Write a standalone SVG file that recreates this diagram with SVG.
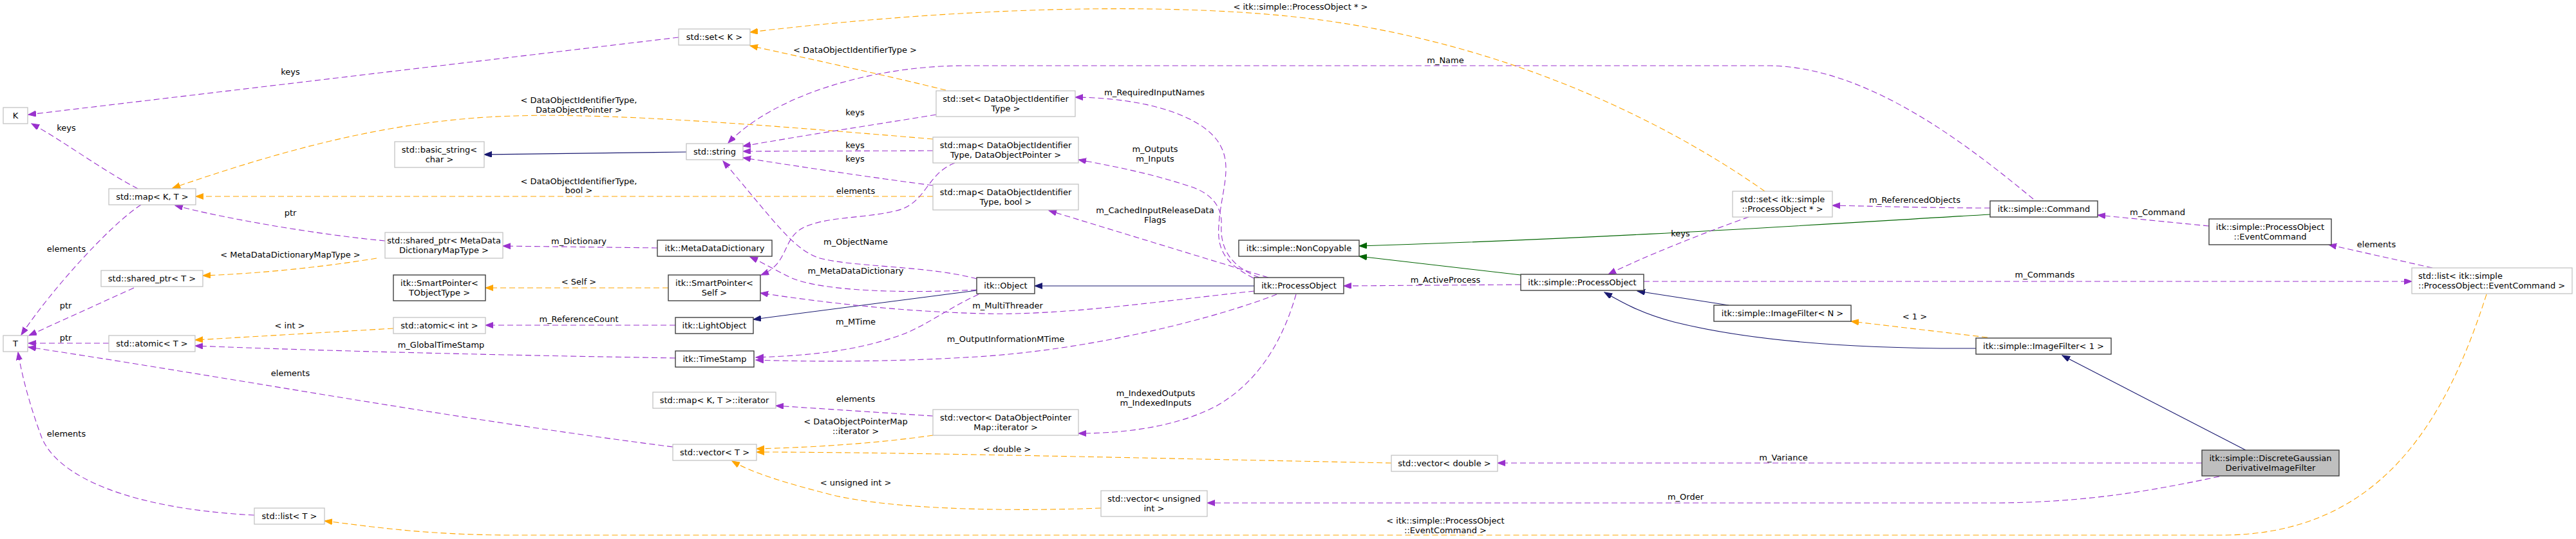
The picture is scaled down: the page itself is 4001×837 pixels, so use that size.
<svg xmlns="http://www.w3.org/2000/svg" width="4001" height="837" viewBox="0 0 4001 837">
<style>
text{font-family:"DejaVu Sans","Liberation Sans",sans-serif;font-size:13px;fill:#000;text-anchor:middle}
.node rect{fill:#fff;stroke:#bfbfbf;stroke-width:1.2}
.node.doc rect{stroke:#404040;stroke-width:1.4}
.node.main rect{fill:#bfbfbf;stroke:#404040;stroke-width:1.4}
.e{fill:none;stroke-width:1.1}
.p{stroke:#9a32cd;stroke-dasharray:9,5;marker-end:url(#ap)}
.o{stroke:#ffa500;stroke-dasharray:9,5;marker-end:url(#ao)}
.b{stroke:#191970;marker-end:url(#ab)}
.g{stroke:#006400;marker-end:url(#ag)}
</style>
<defs>
<marker id="ap" markerUnits="userSpaceOnUse" markerWidth="14" markerHeight="10" refX="12" refY="4.5" orient="auto"><path d="M0,0 L12,4.5 L0,9 z" fill="#9a32cd" stroke="#9a32cd"/></marker>
<marker id="ao" markerUnits="userSpaceOnUse" markerWidth="14" markerHeight="10" refX="12" refY="4.5" orient="auto"><path d="M0,0 L12,4.5 L0,9 z" fill="#ffa500" stroke="#ffa500"/></marker>
<marker id="ab" markerUnits="userSpaceOnUse" markerWidth="14" markerHeight="10" refX="12" refY="4.5" orient="auto"><path d="M0,0 L12,4.5 L0,9 z" fill="#191970" stroke="#191970"/></marker>
<marker id="ag" markerUnits="userSpaceOnUse" markerWidth="14" markerHeight="10" refX="12" refY="4.5" orient="auto"><path d="M0,0 L12,4.5 L0,9 z" fill="#006400" stroke="#006400"/></marker>
</defs>
<rect width="4001" height="837" fill="#fff"/>

<g id="connectors">
<path class="e p" d="M1054,58 L44,178"/><text x="451" y="116">keys</text>
<path class="e p" d="M214,293 C 160,265 100,220 49,192"/><text x="103" y="203">keys</text>
<path class="e p" d="M219,318 C 170,350 80,450 33,520"/><text x="103" y="391">elements</text>
<path class="e p" d="M208,447 L45,521"/><text x="102" y="479">ptr</text>
<path class="e p" d="M169,533 L44,533"/><text x="102" y="529">ptr</text>
<path class="e p" d="M1045,694 C 700,650 350,585 44,539"/><text x="451" y="584">elements</text>
<path class="e p" d="M395,800 C 200,790 90,740 65,680 C 50,640 35,590 28,547"/><text x="103" y="678">elements</text>
<path class="e o" d="M2741,297 C 2560,170 2300,55 2000,25 C 1800,5 1500,10 1165,50"/><text x="2020" y="15">&lt; itk::simple::ProcessObject * &gt;</text>
<path class="e o" d="M1469,140 C 1380,118 1260,92 1165,71"/><text x="1328" y="82">&lt; DataObjectIdentifierType &gt;</text>
<path class="e o" d="M1449,216 C 1200,195 950,175 800,180 C 600,185 420,240 268,292"/><text x="899" y="160">&lt; DataObjectIdentifierType,</text><text x="899" y="175">DataObjectPointer &gt;</text>
<path class="e o" d="M1449,305 L304,305"/><text x="899" y="286">&lt; DataObjectIdentifierType,</text><text x="899" y="300">bool &gt;</text>
<path class="e p" d="M598,374 C 500,365 350,340 272,319"/><text x="451" y="335">ptr</text>
<path class="e o" d="M585,401 C 500,415 400,425 315,428"/><text x="451" y="400">&lt; MetaDataDictionaryMapType &gt;</text>
<path class="e b" d="M1066,236 L752,240"/>
<path class="e p" d="M1454,178 C 1350,195 1250,210 1154,227"/><text x="1328" y="179">keys</text>
<path class="e p" d="M1449,234 L1154,235"/><text x="1328" y="230">keys</text>
<path class="e p" d="M1449,288 C 1350,275 1250,260 1154,245"/><text x="1328" y="251">keys</text>
<path class="e p" d="M1517,433 C 1440,412 1320,415 1270,400 C 1230,385 1200,340 1123,250"/><text x="1329" y="380">m_ObjectName</text>
<path class="e p" d="M3158,309 C 3050,220 2900,105 2750,102 L1500,102 C 1350,102 1200,150 1131,222"/><text x="2245" y="98">m_Name</text>
<path class="e p" d="M1021,385 L781,382"/><text x="899" y="379">m_Dictionary</text>
<path class="e p" d="M1517,450 C 1400,456 1280,452 1230,432 C 1205,420 1185,408 1165,399"/><text x="1329" y="425">m_MetaDataDictionary</text>
<path class="e o" d="M1038,447 L754,447"/><text x="899" y="442">&lt; Self &gt;</text>
<path class="e p" d="M1049,505 L754,505"/><text x="899" y="500">m_ReferenceCount</text>
<path class="e o" d="M611,510 L303,528"/><text x="450" y="510">&lt; int &gt;</text>
<path class="e p" d="M1049,556 C 800,552 500,545 303,537"/><text x="685" y="540">m_GlobalTimeStamp</text>
<path class="e b" d="M1517,451 L1170,496"/>
<path class="e p" d="M1483,253 C 1440,270 1440,310 1400,325 C 1350,340 1280,335 1245,355 C 1215,372 1225,410 1182,427"/><text x="1329" y="301">elements</text>
<path class="e p" d="M1948,452 C 1800,468 1650,490 1530,487 C 1400,484 1280,470 1181,455"/><text x="1565" y="479">m_MultiThreader</text>
<path class="e b" d="M1948,444 L1607,444"/>
<path class="e p" d="M1983,457 C 1900,490 1700,545 1500,555 C 1380,562 1260,562 1174,559"/><text x="1562" y="531">m_OutputInformationMTime</text>
<path class="e p" d="M1520,457 C 1470,480 1440,505 1400,520 C 1330,545 1260,552 1174,555"/><text x="1329" y="504">m_MTime</text>
<path class="e p" d="M1947,432 C 1905,410 1890,390 1893,350 C 1896,300 1915,260 1895,225 C 1870,180 1780,152 1670,151"/><text x="1793" y="148">m_RequiredInputNames</text>
<path class="e p" d="M1956,431 C 1915,415 1895,390 1897,350 C 1899,320 1880,300 1850,290 C 1790,270 1730,258 1675,248"/><text x="1794" y="236">m_Outputs</text><text x="1794" y="251">m_Inputs</text>
<path class="e p" d="M1970,431 L1629,327"/><text x="1794" y="331">m_CachedInputReleaseData</text><text x="1794" y="346">Flags</text>
<path class="e p" d="M2013,457 C 1995,520 1960,590 1890,630 C 1830,662 1750,673 1675,673"/><text x="1795" y="615">m_IndexedOutputs</text><text x="1795" y="630">m_IndexedInputs</text>
<path class="e p" d="M1449,646 L1205,630"/><text x="1329" y="624">elements</text>
<path class="e o" d="M1449,676 C 1350,690 1250,695 1175,697"/><text x="1329" y="659">&lt; DataObjectPointerMap</text><text x="1329" y="674">::iterator &gt;</text>
<path class="e o" d="M2161,719 C 1800,712 1400,702 1175,702"/><text x="1564" y="702">&lt; double &gt;</text>
<path class="e o" d="M1710,789 C 1550,795 1380,790 1290,768 C 1220,750 1170,735 1137,716"/><text x="1329" y="754">&lt; unsigned int &gt;</text>
<path class="e g" d="M2362,427 L2111,398"/>
<path class="e g" d="M3091,333 C 2800,350 2500,370 2111,382"/>
<path class="e p" d="M2362,442 L2087,444"/><text x="2245" y="439">m_ActiveProcess</text>
<path class="e p" d="M3091,323 C 3000,323 2900,320 2846,319"/><text x="2974" y="315">m_ReferencedObjects</text>
<path class="e p" d="M2716,337 C 2650,360 2550,400 2498,426"/><text x="2610" y="367">keys</text>
<path class="e p" d="M2553,437 L3746,437"/><text x="3176" y="431">m_Commands</text>
<path class="e p" d="M3778,416 L3617,380"/><text x="3691" y="384">elements</text>
<path class="e p" d="M3431,351 L3258,334"/><text x="3351" y="334">m_Command</text>
<path class="e b" d="M2685,474 L2543,452"/>
<path class="e b" d="M3069,541 C 2850,542 2700,525 2600,500 C 2550,487 2520,470 2492,454"/>
<path class="e o" d="M3087,524 L2875,499"/><text x="2974" y="496">&lt; 1 &gt;</text>
<path class="e b" d="M3488,699 L3203,552"/>
<path class="e p" d="M3420,719 L2326,719"/><text x="2770" y="715">m_Variance</text>
<path class="e p" d="M3447,740 C 3350,760 3250,780 3100,781 L1875,781"/><text x="2618" y="776">m_Order</text>
<path class="e o" d="M3862,457 C 3800,650 3700,831 3450,831 L800,831 C 650,831 560,815 504,809"/><text x="2245" y="813">&lt; itk::simple::ProcessObject</text><text x="2245" y="828">::EventCommand &gt;</text>
</g>

<g id="n_K" class="node"><rect x="5" y="167" width="38" height="25"/><text x="24" y="184">K</text></g>
<g id="n_T" class="node"><rect x="5" y="521" width="38" height="25"/><text x="24" y="538">T</text></g>
<g id="n_mapKT" class="node"><rect x="169" y="293" width="135" height="25"/><text x="236.5" y="310">std::map&lt; K, T &gt;</text></g>
<g id="n_sharedT" class="node"><rect x="157" y="420" width="158" height="25"/><text x="236" y="437">std::shared_ptr&lt; T &gt;</text></g>
<g id="n_atomicT" class="node"><rect x="169" y="521" width="134" height="25"/><text x="236" y="538">std::atomic&lt; T &gt;</text></g>
<g id="n_listT" class="node"><rect x="395" y="789" width="109" height="25"/><text x="449.5" y="806">std::list&lt; T &gt;</text></g>
<g id="n_setK" class="node"><rect x="1054" y="45" width="111" height="25"/><text x="1109.5" y="62">std::set&lt; K &gt;</text></g>
<g id="n_basicstr" class="node"><rect x="613" y="220" width="139" height="40"/><text x="682.5" y="236.5">std::basic_string&lt;</text><text x="682.5" y="251.5">char &gt;</text></g>
<g id="n_string" class="node"><rect x="1066" y="223" width="88" height="25"/><text x="1110" y="240">std::string</text></g>
<g id="n_sharedMD" class="node"><rect x="598" y="361" width="183" height="40"/><text x="689.5" y="377.5">std::shared_ptr&lt; MetaData</text><text x="689.5" y="392.5">DictionaryMapType &gt;</text></g>
<g id="n_MDD" class="node doc"><rect x="1021" y="373" width="178" height="25"/><text x="1110" y="390">itk::MetaDataDictionary</text></g>
<g id="n_SPT" class="node doc"><rect x="611" y="427" width="143" height="40"/><text x="682.5" y="443.5">itk::SmartPointer&lt;</text><text x="682.5" y="458.5">TObjectType &gt;</text></g>
<g id="n_SPSelf" class="node doc"><rect x="1038" y="427" width="143" height="40"/><text x="1109.5" y="443.5">itk::SmartPointer&lt;</text><text x="1109.5" y="458.5">Self &gt;</text></g>
<g id="n_atomicInt" class="node"><rect x="611" y="493" width="143" height="25"/><text x="682.5" y="510">std::atomic&lt; int &gt;</text></g>
<g id="n_Light" class="node doc"><rect x="1049" y="493" width="121" height="25"/><text x="1109.5" y="510">itk::LightObject</text></g>
<g id="n_TS" class="node doc"><rect x="1049" y="545" width="122" height="25"/><text x="1110" y="562">itk::TimeStamp</text></g>
<g id="n_mapIter" class="node"><rect x="1014" y="609" width="191" height="25"/><text x="1109.5" y="626">std::map&lt; K, T &gt;::iterator</text></g>
<g id="n_vecT" class="node"><rect x="1045" y="690" width="130" height="25"/><text x="1110" y="707">std::vector&lt; T &gt;</text></g>
<g id="n_setDOIT" class="node"><rect x="1454" y="141" width="216" height="40"/><text x="1562" y="157.5">std::set&lt; DataObjectIdentifier</text><text x="1562" y="172.5">Type &gt;</text></g>
<g id="n_mapDOP" class="node"><rect x="1449" y="213" width="226" height="40"/><text x="1562" y="229.5">std::map&lt; DataObjectIdentifier</text><text x="1562" y="244.5">Type, DataObjectPointer &gt;</text></g>
<g id="n_mapBool" class="node"><rect x="1449" y="286" width="226" height="40"/><text x="1562" y="302.5">std::map&lt; DataObjectIdentifier</text><text x="1562" y="317.5">Type, bool &gt;</text></g>
<g id="n_Object" class="node doc"><rect x="1517" y="431" width="90" height="25"/><text x="1562" y="448">itk::Object</text></g>
<g id="n_vecDOPM" class="node"><rect x="1449" y="636" width="226" height="40"/><text x="1562" y="652.5">std::vector&lt; DataObjectPointer</text><text x="1562" y="667.5">Map::iterator &gt;</text></g>
<g id="n_vecUInt" class="node"><rect x="1710" y="762" width="165" height="40"/><text x="1792.5" y="778.5">std::vector&lt; unsigned</text><text x="1792.5" y="793.5">int &gt;</text></g>
<g id="n_NonCopy" class="node doc"><rect x="1924" y="373" width="187" height="25"/><text x="2017.5" y="390">itk::simple::NonCopyable</text></g>
<g id="n_PO" class="node doc"><rect x="1948" y="431" width="139" height="25"/><text x="2017.5" y="448">itk::ProcessObject</text></g>
<g id="n_sPO" class="node doc"><rect x="2362" y="426" width="191" height="25"/><text x="2457.5" y="443">itk::simple::ProcessObject</text></g>
<g id="n_vecDouble" class="node"><rect x="2161" y="707" width="165" height="25"/><text x="2243.5" y="724">std::vector&lt; double &gt;</text></g>
<g id="n_setSPO" class="node"><rect x="2691" y="297" width="155" height="40"/><text x="2768.5" y="313.5">std::set&lt; itk::simple</text><text x="2768.5" y="328.5">::ProcessObject * &gt;</text></g>
<g id="n_Command" class="node doc"><rect x="3091" y="312" width="167" height="25"/><text x="3174.5" y="329">itk::simple::Command</text></g>
<g id="n_IFN" class="node doc"><rect x="2662" y="474" width="213" height="25"/><text x="2768.5" y="491">itk::simple::ImageFilter&lt; N &gt;</text></g>
<g id="n_IF1" class="node doc"><rect x="3069" y="525" width="210" height="25"/><text x="3174" y="542">itk::simple::ImageFilter&lt; 1 &gt;</text></g>
<g id="n_EvCmd" class="node doc"><rect x="3431" y="340" width="190" height="40"/><text x="3526" y="356.5">itk::simple::ProcessObject</text><text x="3526" y="371.5">::EventCommand</text></g>
<g id="n_listEv" class="node"><rect x="3746" y="416" width="249" height="40"/><text x="3756" y="432.5" style="text-anchor:start">std::list&lt; itk::simple</text><text x="3756" y="447.5" style="text-anchor:start">::ProcessObject::EventCommand &gt;</text></g>
<g id="n_DG" class="node main"><rect x="3420" y="699" width="213" height="40"/><text x="3526.5" y="715.5">itk::simple::DiscreteGaussian</text><text x="3526.5" y="730.5">DerivativeImageFilter</text></g>
</svg>
